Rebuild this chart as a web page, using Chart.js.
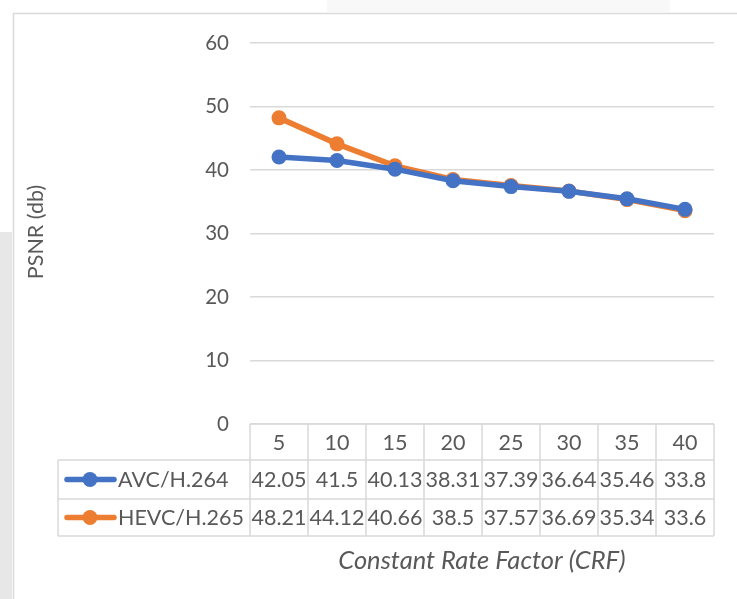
<!DOCTYPE html>
<html>
<head>
<meta charset="utf-8">
<script src="https://cdn.jsdelivr.net/npm/chart.js@4/dist/chart.umd.min.js"></script>
<style>
  html, body { margin: 0; padding: 0; background: #fff; }
  #wrap { width: 737px; height: 599px; }
</style>
</head>
<body>
<div id="wrap"><canvas id="c" width="737" height="599"></canvas></div>
<script>
const categories = ['5', '10', '15', '20', '25', '30', '35', '40'];
const avcValues = [42.05, 41.5, 40.13, 38.31, 37.39, 36.64, 35.46, 33.8];
const hevcValues = [48.21, 44.12, 40.66, 38.5, 37.57, 36.69, 35.34, 33.6];
const avcLabels = ['42.05', '41.5', '40.13', '38.31', '37.39', '36.64', '35.46', '33.8'];
const hevcLabels = ['48.21', '44.12', '40.66', '38.5', '37.57', '36.69', '35.34', '33.6'];
const seriesNames = ['AVC/H.264', 'HEVC/H.265'];
const yTitle = 'PSNR (db)';
const xTitle = 'Constant Rate Factor (CRF)';

const BLUE = '#4472C4';
const ORANGE = '#ED7D31';
const TEXT = '#595959';
const GRID = '#d9d9d9';
const FONT = 'Lato, "Open Sans", sans-serif';

const framePlugin = {
  id: 'frame',
  beforeDraw(chart) {
    const ctx = chart.ctx;
    ctx.save();
    ctx.fillStyle = '#ffffff';
    ctx.fillRect(0, 0, chart.width, chart.height);
    ctx.fillStyle = '#f8f8f8';
    ctx.fillRect(327, 0, 343, 12);
    ctx.fillStyle = '#e7e7e7';
    ctx.fillRect(0, 232, 12, chart.height - 232);
    ctx.strokeStyle = '#d9d9d9';
    ctx.lineWidth = 1.5;
    ctx.beginPath();
    ctx.moveTo(13.5, chart.height + 2);
    ctx.lineTo(13.5, 13.5);
    ctx.lineTo(chart.width + 2, 13.5);
    ctx.stroke();
    ctx.restore();
  }
};

const tablePlugin = {
  id: 'dataTable',
  afterDraw(chart) {
    const ctx = chart.ctx;
    const xs = chart.scales.x;
    const area = chart.chartArea;
    const n = categories.length;
    const colW = (area.right - area.left) / n;
    const top = area.bottom;
    const r1 = top + 36;
    const r2 = r1 + 39;
    const r3 = r2 + 37;
    const legL = 58;
    ctx.save();
    ctx.strokeStyle = GRID;
    ctx.lineWidth = 1.5;
    ctx.beginPath();
    ctx.moveTo(area.left, top); ctx.lineTo(area.right, top);
    [r1, r2, r3].forEach(y => { ctx.moveTo(legL, y); ctx.lineTo(area.right, y); });
    ctx.moveTo(legL, r1); ctx.lineTo(legL, r3);
    for (let i = 0; i <= n; i++) {
      const x = i < n ? xs.getPixelForValue(i) - colW / 2 : xs.getPixelForValue(n - 1) + colW / 2;
      ctx.moveTo(x, top); ctx.lineTo(x, r3);
    }
    ctx.stroke();

    ctx.fillStyle = TEXT;
    ctx.font = '21.5px ' + FONT;
    ctx.textAlign = 'center';
    ctx.textBaseline = 'middle';
    categories.forEach((c, i) => ctx.fillText(c, xs.getPixelForValue(i), (top + r1) / 2 + 1));
    const rows = [[avcLabels, BLUE, (r1 + r2) / 2], [hevcLabels, ORANGE, (r2 + r3) / 2]];
    rows.forEach(([labels, color, y], k) => {
      ctx.font = '21.5px ' + FONT;
      labels.forEach((t, i) => ctx.fillText(t, xs.getPixelForValue(i), y + 1));
      ctx.strokeStyle = color;
      ctx.lineWidth = 5.5;
      ctx.lineCap = 'round';
      ctx.beginPath(); ctx.moveTo(67, y); ctx.lineTo(114, y); ctx.stroke();
      ctx.fillStyle = color;
      ctx.beginPath(); ctx.arc(90, y, 7.5, 0, Math.PI * 2); ctx.fill();
      ctx.fillStyle = TEXT;
      ctx.textAlign = 'left';
      ctx.font = '21.5px ' + FONT;
      ctx.fillText(seriesNames[k], 118, y + 1);
      ctx.textAlign = 'center';
    });

    ctx.font = 'italic 25.5px ' + FONT;
    ctx.fillText(xTitle, 482, 561);

    ctx.translate(36, 232);
    ctx.rotate(-Math.PI / 2);
    ctx.font = '21.5px ' + FONT;
    ctx.fillText(yTitle, 0, 0);
    ctx.restore();
  }
};

new Chart(document.getElementById('c'), {
  type: 'line',
  data: {
    labels: categories,
    datasets: [
      { label: seriesNames[0], data: avcValues, borderColor: BLUE, backgroundColor: BLUE,
        borderWidth: 5.5, pointRadius: 7.5, pointHoverRadius: 7.5, pointBackgroundColor: BLUE,
        pointBorderWidth: 0, tension: 0 },
      { label: seriesNames[1], data: hevcValues, borderColor: ORANGE, backgroundColor: ORANGE,
        borderWidth: 5.5, pointRadius: 7.5, pointHoverRadius: 7.5, pointBackgroundColor: ORANGE,
        pointBorderWidth: 0, tension: 0 }
    ]
  },
  options: {
    responsive: false,
    animation: false,
    events: [],
    layout: { padding: { left: 0, right: 23, top: 43, bottom: 175 } },
    plugins: { legend: { display: false }, tooltip: { enabled: false } },
    scales: {
      x: { type: 'category', offset: true, display: false },
      y: {
        min: 0, max: 60,
        ticks: { stepSize: 10, color: TEXT, font: { family: FONT, size: 20.5 }, padding: 21 },
        grid: { color: GRID, lineWidth: 1.5, drawTicks: false },
        border: { display: false },
        afterFit(scale) { scale.width = 250; }
      }
    }
  },
  plugins: [framePlugin, tablePlugin]
});
</script>
</body>
</html>
